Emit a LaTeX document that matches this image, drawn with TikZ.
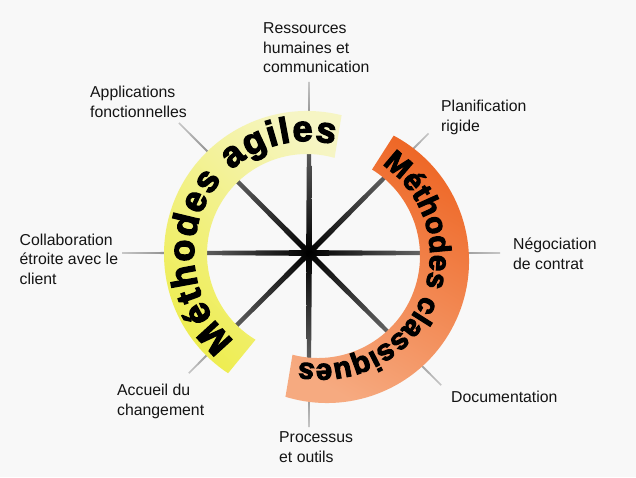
\documentclass[tikz,border=0pt]{standalone}
\usepackage{fontspec}
\setmainfont{Liberation Sans}
\newfontfamily\heavyfont[FakeBold=3.6]{Liberation Sans Bold}
\usetikzlibrary{decorations.text}
\definecolor{bg}{HTML}{F8F8F8}
\definecolor{yelLight}{HTML}{F6F5C4}
\definecolor{yelMid}{HTML}{F1F075}
\definecolor{yelDark}{HTML}{EEED50}
\definecolor{orDark}{HTML}{EE6726}
\definecolor{orLight}{HTML}{F6AA80}
\newcommand\agfont{\heavyfont\fontsize{36}{36}\selectfont}
\newcommand\clfont{\heavyfont\fontsize{29.5}{29.5}\selectfont}
\tikzset{
  lab/.style={font=\fontsize{15.8}{19.5}\selectfont, align=left, anchor=west, inner sep=0pt, text=black!92},
  ringtext/.style={decorate, decoration={text along path, text align=fit to path, text={#1}}}
}
\begin{document}
\begin{tikzpicture}[x=1pt,y=1pt]
\useasboundingbox (0,0) rectangle (636,477);
\fill[bg] (0,0) rectangle (636,477);
\coordinate (C) at (309,224);
\coordinate (Yc) at (307,223);
\coordinate (Oin) at (318,221);
\coordinate (Oout) at (327,216);
\coordinate (Ot) at (321,222);

% spokes
\foreach \a/\t in {0/191,45/169,90/171,135/184,180/187,225/170,270/174,315/187}{
  \begin{scope}[transform canvas={shift={(309pt,224pt)},rotate=\a}]
    \shade[left color=black!60, right color=black!22] (110,-1.2) -- (\t,-0.8) -- (\t,0.8) -- (110,1.2) -- cycle;
    \shade[left color=black, right color=black!58] (0,-2.9) -- (120,-2.0) -- (120,2.0) -- (0,2.9) -- cycle;
  \end{scope}
}

% yellow ring
\shade[top color=yelLight, middle color=yelMid, bottom color=yelDark, shading angle=-45]
  ([shift={(76:143)}]Yc) arc[start angle=76, end angle=236.5, radius=143]
  -- ([shift={(239:100)}]Yc) arc[start angle=239, end angle=74, radius=100] -- cycle;

% orange ring
\shade[top color=orDark, middle color=orDark, bottom color=orLight, shading angle=-30]
  ([shift={(62:142)}]Oout) arc[start angle=62, end angle=-107, radius=142]
  -- ([shift={(-104.5:102)}]Oin) arc[start angle=-104.5, end angle=58, radius=102] -- cycle;

% ring texts
\path[ringtext={|\agfont|Méthodes agiles}]
  ([shift={(230:113)}]Yc) arc[start angle=230, end angle=76, radius=113];
\path[ringtext={|\clfont|Méthodes classiques}]
  ([shift={(56:109)}]Ot) arc[start angle=56, end angle=-101.5, radius=109];

% labels
\node[lab] (rh)  at (263,429.3) {Ressources\\humaines et\\communication};
\node[lab] (app) at (90,375) {Applications\\fonctionnelles};
\node[lab] (pla) at (441,359.5) {Planification\\rigide};
\node[lab] (col) at (19.5,218) {Collaboration\\étroite avec le\\client};
\node[lab] (neg) at (513,223) {Négociation\\de contrat};
\node[lab] (acc) at (117,75.5) {Accueil du\\changement};
\node[lab] (doc) at (451,80) {Documentation};
\node[lab] (pro) at (279,30) {Processus\\et outils};
\end{tikzpicture}
\end{document}
